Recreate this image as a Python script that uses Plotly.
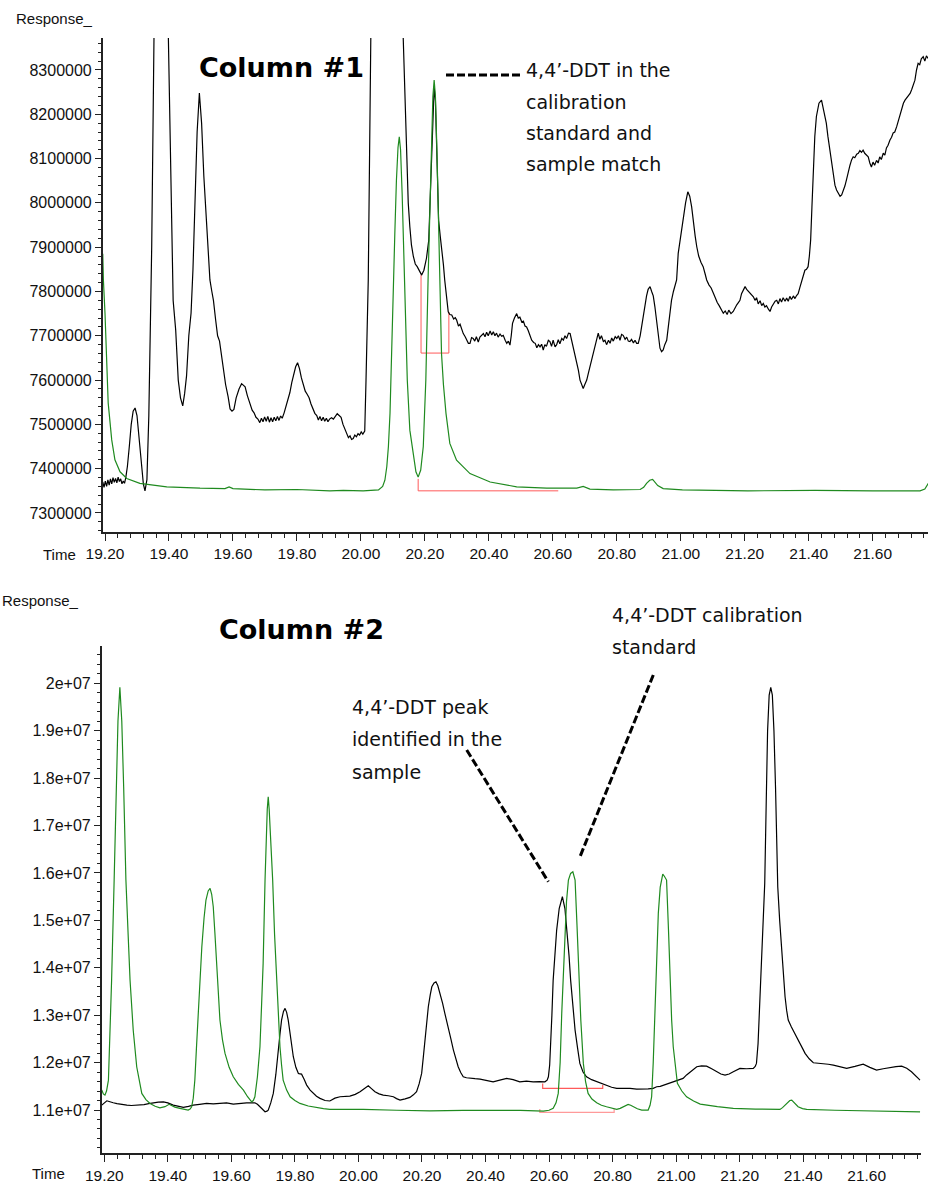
import plotly.graph_objects as go

# ---------------- data ----------------
# Column #1 : sample (black)
c1_sample = [
 (19.193,7370000),(19.197,7358000),(19.201,7372000),(19.205,7360000),(19.209,7375000),(19.213,7363000),
 (19.217,7377000),(19.221,7366000),(19.225,7380000),(19.229,7369000),(19.233,7378000),(19.237,7368000),
 (19.241,7381000),(19.245,7371000),(19.249,7377000),(19.253,7366000),(19.257,7372000),(19.261,7367000),
 (19.265,7380000),(19.270,7405000),(19.276,7450000),(19.282,7500000),(19.288,7530000),(19.294,7537000),
 (19.300,7520000),(19.307,7465000),(19.314,7400000),(19.320,7365000),(19.325,7350000),(19.331,7375000),
 (19.337,7520000),(19.342,7720000),(19.346,7900000),(19.370,9490000),(19.413,7780000),(19.421,7713000),
 (19.429,7600000),(19.436,7560000),(19.443,7542000),(19.449,7570000),(19.455,7610000),(19.462,7700000),
 (19.469,7751000),(19.475,7850000),(19.481,8000000),(19.488,8160000),(19.495,8248000),(19.502,8180000),
 (19.509,8060000),(19.516,7970000),(19.523,7900000),(19.528,7826000),(19.534,7800000),(19.539,7780000),
 (19.546,7735000),(19.552,7700000),(19.558,7688000),(19.563,7660000),(19.570,7622000),(19.577,7590000),
 (19.585,7562000),(19.591,7535000),(19.597,7530000),(19.603,7534000),(19.610,7560000),(19.619,7580000),
 (19.627,7592000),(19.632,7588000),(19.638,7585000),(19.645,7565000),(19.653,7545000),(19.660,7532000),
 (19.666,7526000),(19.672,7516000),(19.678,7512000),(19.684,7504000),(19.689,7514000),(19.694,7506000),
 (19.699,7517000),(19.704,7507000),(19.709,7518000),(19.714,7505000),(19.719,7515000),(19.724,7506000),
 (19.729,7516000),(19.734,7508000),(19.739,7518000),(19.744,7509000),(19.749,7519000),(19.754,7514000),
 (19.760,7526000),(19.766,7540000),(19.772,7555000),(19.778,7572000),(19.784,7595000),(19.790,7615000),
 (19.796,7630000),(19.802,7639000),(19.808,7626000),(19.814,7605000),(19.820,7588000),(19.826,7575000),
 (19.832,7568000),(19.838,7560000),(19.844,7546000),(19.850,7535000),(19.856,7525000),(19.862,7520000),
 (19.867,7510000),(19.872,7518000),(19.877,7508000),(19.882,7516000),(19.887,7507000),(19.892,7514000),
 (19.897,7506000),(19.902,7512000),(19.908,7515000),(19.914,7512000),(19.920,7518000),(19.926,7524000),
 (19.932,7520000),(19.938,7516000),(19.944,7500000),(19.950,7490000),(19.956,7478000),(19.961,7470000),
 (19.966,7474000),(19.971,7466000),(19.976,7468000),(19.981,7476000),(19.986,7472000),(19.991,7479000),
 (19.996,7476000),(20.001,7483000),(20.006,7478000),(20.012,7485000),(20.016,7600000),(20.019,7700000),
 (20.023,7826000),(20.057,10160000),(20.143,8082000),(20.148,8000000),(20.153,7946000),(20.158,7905000),
 (20.164,7879000),(20.170,7862000),(20.176,7856000),(20.183,7845000),(20.190,7837000),(20.197,7848000),
 (20.205,7875000),(20.212,7915000),(20.216,8000000),(20.221,8120000),(20.225,8220000),(20.229,8262000),
 (20.233,8230000),(20.238,8100000),(20.243,7960000),(20.248,7925000),(20.253,7895000),(20.258,7860000),
 (20.262,7826000),(20.268,7781000),(20.273,7754000),
 (20.278,7748000),(20.284,7747000),(20.290,7738000),(20.295,7741000),(20.299,7736000),(20.305,7722000),
 (20.310,7726000),(20.315,7713000),(20.320,7705000),(20.326,7698000),(20.331,7690000),(20.336,7683000),
 (20.341,7683000),(20.346,7696000),(20.351,7694000),(20.356,7688000),(20.361,7698000),(20.367,7686000),
 (20.372,7697000),(20.377,7700000),(20.383,7705000),(20.388,7698000),(20.393,7708000),(20.398,7700000),
 (20.404,7711000),(20.409,7702000),(20.414,7709000),(20.419,7700000),(20.424,7706000),(20.429,7697000),
 (20.435,7704000),(20.440,7699000),(20.445,7701000),(20.451,7690000),(20.456,7683000),(20.461,7688000),
 (20.466,7679000),(20.470,7700000),(20.474,7728000),(20.480,7740000),(20.487,7750000),(20.492,7740000),
 (20.497,7742000),(20.503,7731000),(20.508,7733000),(20.513,7722000),(20.518,7720000),(20.523,7712000),
 (20.529,7701000),(20.534,7690000),(20.540,7685000),(20.545,7683000),(20.550,7673000),(20.555,7680000),
 (20.560,7675000),(20.565,7681000),(20.570,7668000),(20.575,7680000),(20.580,7676000),(20.586,7690000),
 (20.591,7687000),(20.596,7676000),(20.601,7690000),(20.607,7675000),(20.612,7680000),(20.617,7691000),
 (20.622,7682000),(20.628,7694000),(20.633,7690000),(20.638,7700000),(20.643,7694000),(20.649,7706000),
 (20.654,7705000),(20.659,7690000),(20.664,7675000),(20.670,7655000),(20.675,7640000),(20.680,7622000),
 (20.685,7600000),(20.690,7590000),(20.695,7581000),(20.700,7590000),(20.706,7600000),(20.711,7615000),
 (20.716,7630000),(20.721,7642000),(20.727,7660000),(20.732,7675000),(20.737,7690000),(20.742,7706000),
 (20.747,7692000),(20.752,7700000),(20.758,7687000),(20.763,7690000),(20.768,7680000),(20.774,7690000),
 (20.779,7683000),(20.784,7695000),(20.789,7688000),(20.795,7698000),(20.800,7694000),(20.805,7700000),
 (20.810,7690000),(20.815,7703000),(20.820,7701000),(20.826,7692000),(20.831,7697000),(20.836,7688000),
 (20.841,7687000),(20.846,7692000),(20.852,7684000),(20.857,7690000),(20.862,7683000),(20.867,7683000),
 (20.873,7700000),(20.878,7725000),(20.883,7750000),(20.888,7766000),(20.893,7790000),(20.898,7805000),
 (20.904,7811000),(20.909,7800000),(20.914,7790000),(20.919,7766000),(20.925,7730000),(20.930,7700000),
 (20.935,7672000),(20.940,7664000),(20.945,7668000),(20.950,7680000),(20.956,7690000),(20.961,7720000),
 (20.966,7750000),(20.971,7780000),(20.977,7800000),(20.982,7812000),(20.987,7826000),(20.992,7886000),
 (21.000,7930000),(21.008,7969000),(21.015,8000000),(21.022,8025000),(21.028,8015000),(21.034,7991000),
 (21.040,7950000),(21.045,7925000),(21.050,7901000),(21.056,7880000),(21.063,7866000),(21.070,7856000),
 (21.076,7840000),(21.081,7826000),(21.088,7815000),(21.095,7808000),(21.102,7796000),(21.108,7785000),
 (21.114,7775000),(21.120,7768000),(21.127,7760000),(21.133,7751000),(21.139,7756000),(21.145,7748000),
 (21.150,7758000),(21.157,7750000),(21.164,7755000),(21.170,7764000),(21.175,7770000),(21.180,7775000),
 (21.185,7780000),(21.190,7795000),(21.196,7805000),(21.201,7811000),(21.206,7805000),(21.212,7800000),
 (21.217,7795000),(21.222,7790000),(21.227,7788000),(21.232,7780000),(21.237,7786000),(21.242,7772000),
 (21.248,7779000),(21.253,7768000),(21.258,7773000),(21.263,7765000),(21.268,7768000),(21.274,7760000),
 (21.279,7755000),(21.284,7765000),(21.290,7772000),(21.295,7778000),(21.300,7780000),(21.305,7772000),
 (21.310,7784000),(21.315,7776000),(21.320,7786000),(21.326,7778000),(21.331,7785000),(21.336,7778000),
 (21.341,7789000),(21.346,7782000),(21.352,7790000),(21.357,7784000),(21.362,7791000),(21.367,7795000),
 (21.372,7808000),(21.377,7820000),(21.383,7838000),(21.388,7848000),(21.393,7850000),(21.398,7856000),
 (21.402,7880000),(21.406,7916000),(21.410,7990000),(21.414,8082000),(21.419,8150000),(21.424,8195000),
 (21.432,8225000),(21.440,8232000),(21.447,8210000),(21.455,8180000),(21.460,8150000),(21.466,8119000),
 (21.471,8090000),(21.477,8059000),(21.482,8040000),(21.487,8029000),(21.493,8022000),(21.498,8015000),
 (21.503,8018000),(21.508,8026000),(21.513,8038000),(21.518,8052000),(21.523,8070000),(21.529,8085000),
 (21.534,8097000),(21.539,8104000),(21.544,8102000),(21.550,8110000),(21.555,8112000),(21.560,8118000),
 (21.565,8114000),(21.570,8119000),(21.575,8112000),(21.580,8108000),(21.586,8104000),(21.591,8090000),
 (21.596,8081000),(21.601,8092000),(21.606,8085000),(21.612,8096000),(21.617,8090000),(21.622,8104000),
 (21.627,8098000),(21.633,8112000),(21.638,8108000),(21.643,8124000),(21.648,8130000),(21.654,8142000),
 (21.659,8148000),(21.664,8158000),(21.669,8160000),(21.675,8172000),(21.680,8185000),(21.685,8200000),
 (21.690,8212000),(21.696,8225000),(21.701,8232000),(21.706,8236000),(21.711,8240000),(21.717,8247000),
 (21.722,8256000),(21.727,8268000),(21.732,8277000),(21.737,8300000),(21.742,8315000),(21.747,8312000),
 (21.752,8325000),(21.758,8330000),(21.763,8320000),(21.768,8332000),(21.773,8326000)]

# Column #1 : calibration standard (green)
c1_standard = [
 (19.193,7885000),(19.195,7826000),(19.200,7751000),(19.205,7638000),(19.210,7548000),(19.221,7465000),
 (19.231,7420000),(19.247,7393000),(19.268,7378000),(19.309,7367000),(19.393,7359000),(19.497,7356000),
 (19.575,7355000),(19.588,7359000),(19.600,7355000),(19.700,7352000),(19.800,7353000),(19.903,7350000),
 (19.945,7351000),(20.007,7350000),(20.055,7352000),(20.068,7360000),(20.075,7374000),(20.081,7405000),
 (20.086,7450000),(20.091,7525000),(20.096,7675000),(20.101,7788000),(20.106,7930000),(20.111,8050000),
 (20.116,8125000),(20.120,8149000),(20.124,8120000),(20.129,8020000),(20.133,7900000),(20.137,7790000),
 (20.145,7600000),(20.153,7487000),(20.164,7427000),(20.172,7393000),(20.179,7381000),(20.187,7397000),
 (20.195,7450000),(20.203,7600000),(20.210,7826000),(20.216,8010000),(20.221,8140000),(20.225,8240000),
 (20.229,8277000),(20.233,8240000),(20.238,8110000),(20.243,7930000),(20.247,7790000),(20.252,7660000),
 (20.258,7590000),(20.266,7525000),(20.278,7457000),(20.299,7419000),(20.341,7389000),(20.404,7370000),
 (20.487,7359000),(20.581,7356000),(20.675,7356000),(20.695,7360000),(20.716,7354000),(20.789,7352000),
 (20.873,7353000),(20.884,7358000),(20.893,7367000),(20.903,7374000),(20.912,7376000),(20.920,7370000),
 (20.928,7362000),(20.945,7355000),(21.005,7352000),(21.210,7350000),(21.420,7351000),(21.600,7350000),
 (21.748,7350000),(21.763,7354000),(21.774,7367000)]

# Column #2 : sample (black)
c2_sample = [
 (19.192,11103000),(19.200,11150000),(19.208,11194000),(19.215,11180000),(19.222,11160000),(19.228,11152000),
 (19.240,11135000),(19.250,11120000),(19.260,11110000),(19.271,11103000),(19.285,11095000),(19.300,11100000),
 (19.312,11103000),(19.325,11115000),(19.340,11135000),(19.354,11152000),(19.370,11165000),(19.386,11173000),
 (19.400,11150000),(19.417,11103000),(19.433,11075000),(19.449,11055000),(19.465,11075000),(19.480,11103000),
 (19.500,11120000),(19.522,11139000),(19.543,11130000),(19.564,11139000),(19.585,11150000),(19.606,11125000),
 (19.627,11140000),(19.648,11152000),(19.665,11150000),(19.674,11152000),(19.682,11120000),(19.690,11068000),
 (19.698,11010000),(19.706,10962000),(19.712,10975000),(19.716,10998000),(19.724,11150000),(19.732,11350000),
 (19.740,11750000),(19.748,12194000),(19.753,12600000),(19.758,12897000),(19.764,13080000),(19.769,13143000),
 (19.774,13060000),(19.779,12897000),(19.787,12500000),(19.795,12123000),(19.803,11900000),(19.811,11772000),
 (19.816,11760000),(19.821,11757000),(19.829,11650000),(19.837,11525000),(19.848,11420000),(19.858,11350000),
 (19.868,11290000),(19.879,11245000),(19.895,11200000),(19.910,11190000),(19.926,11250000),(19.942,11279000),
 (19.957,11280000),(19.973,11293000),(19.990,11330000),(20.005,11384000),(20.018,11450000),(20.031,11510000),
 (20.041,11450000),(20.052,11384000),(20.065,11340000),(20.078,11314000),(20.094,11300000),(20.110,11279000),
 (20.120,11240000),(20.131,11209000),(20.147,11235000),(20.162,11265000),(20.173,11320000),(20.183,11384000),
 (20.191,11550000),(20.199,11772000),(20.204,12100000),(20.209,12475000),(20.215,12850000),(20.220,13177000),
 (20.226,13430000),(20.231,13599000),(20.238,13680000),(20.244,13705000),(20.250,13620000),(20.257,13460000),
 (20.265,13250000),(20.272,13038000),(20.283,12755000),(20.291,12500000),(20.299,12264000),(20.307,12070000),
 (20.314,11912000),(20.322,11790000),(20.330,11701000),(20.340,11680000),(20.351,11667000),(20.367,11660000),
 (20.383,11652000),(20.403,11630000),(20.424,11595000),(20.445,11630000),(20.467,11667000),(20.487,11640000),
 (20.508,11595000),(20.529,11610000),(20.550,11595000),(20.570,11600000),(20.587,11595000),(20.594,11630000),
 (20.598,11701000),(20.602,11950000),(20.605,12334000),(20.609,13000000),(20.613,13740000),(20.618,14300000),
 (20.624,14795000),(20.632,15250000),(20.642,15498000),(20.650,15250000),(20.657,14795000),(20.663,14250000),
 (20.668,13740000),(20.675,13150000),(20.682,12686000),(20.690,12300000),(20.697,11983000),(20.707,11800000),
 (20.718,11701000),(20.734,11640000),(20.750,11595000),(20.765,11560000),(20.781,11525000),(20.797,11480000),
 (20.813,11456000),(20.834,11460000),(20.855,11456000),(20.876,11440000),(20.897,11434000),(20.912,11445000),
 (20.928,11456000),(20.939,11490000),(20.950,11500000),(20.970,11545000),(20.991,11595000),(21.006,11630000),
 (21.022,11667000),(21.033,11740000),(21.044,11806000),(21.055,11870000),(21.065,11912000),(21.080,11930000),
 (21.096,11926000),(21.112,11870000),(21.128,11806000),(21.141,11760000),(21.154,11736000),(21.167,11760000),
 (21.180,11806000),(21.190,11840000),(21.201,11877000),(21.222,11870000),(21.243,11877000),(21.249,11920000),
 (21.253,11983000),(21.258,12400000),(21.262,13038000),(21.266,13800000),(21.269,14443000),(21.273,15150000),
 (21.279,15780000),(21.284,17600000),(21.288,19000000),(21.293,19750000),(21.298,19916000),(21.303,19750000),
 (21.308,19000000),(21.313,17800000),(21.320,15709000),(21.326,15000000),(21.332,14443000),(21.337,13900000),
 (21.343,13388000),(21.348,13100000),(21.353,12897000),(21.363,12750000),(21.374,12616000),(21.382,12500000),
 (21.390,12405000),(21.398,12300000),(21.406,12194000),(21.419,12080000),(21.432,11996000),(21.447,11990000),
 (21.463,11983000),(21.479,11965000),(21.495,11947000),(21.516,11910000),(21.537,11877000),(21.563,11920000),
 (21.589,11968000),(21.610,11900000),(21.631,11842000),(21.652,11870000),(21.673,11899000),(21.692,11915000),
 (21.710,11926000),(21.726,11880000),(21.741,11806000),(21.755,11720000),(21.768,11631000)]

# Column #2 : calibration standard (green)
c2_standard = [
 (19.192,11420000),(19.197,11340000),(19.202,11314000),(19.207,11400000),(19.213,11630000),(19.218,12500000),
 (19.223,13740000),(19.231,15850000),(19.238,17800000),(19.243,19200000),(19.249,19916000),(19.255,19200000),
 (19.261,17800000),(19.268,15850000),(19.275,14700000),(19.281,13740000),(19.291,12686000),(19.302,11912000),
 (19.318,11350000),(19.331,11220000),(19.344,11139000),(19.360,11080000),(19.375,11047000),(19.391,11070000),
 (19.404,11120000),(19.422,11060000),(19.438,11034000),(19.451,11010000),(19.464,10998000),(19.470,11020000),
 (19.475,11068000),(19.480,11250000),(19.485,11631000),(19.490,12300000),(19.496,13038000),(19.501,13750000),
 (19.507,14443000),(19.514,15050000),(19.520,15428000),(19.527,15620000),(19.533,15675000),(19.538,15550000),
 (19.543,15287000),(19.548,14750000),(19.554,14093000),(19.559,13450000),(19.564,12897000),(19.572,12480000),
 (19.580,12194000),(19.593,11900000),(19.606,11701000),(19.622,11540000),(19.638,11420000),(19.651,11280000),
 (19.664,11173000),(19.669,11200000),(19.674,11279000),(19.682,11700000),(19.690,12334000),(19.695,13200000),
 (19.700,14093000),(19.706,15850000),(19.710,16800000),(19.713,17350000),(19.716,17608000),(19.719,17350000),
 (19.723,16800000),(19.730,15850000),(19.736,14700000),(19.743,13740000),(19.748,12900000),(19.753,12334000),
 (19.758,11950000),(19.763,11631000),(19.774,11420000),(19.785,11279000),(19.800,11200000),(19.816,11139000),
 (19.842,11085000),(19.869,11047000),(19.890,11030000),(19.910,11013000),(20.015,11013000),(20.120,10995000),
 (20.225,10983000),(20.330,10990000),(20.435,10998000),(20.510,10990000),(20.582,10977000),(20.600,10995000),
 (20.613,11034000),(20.622,11150000),(20.629,11350000),(20.635,12000000),(20.640,13038000),(20.645,13950000),
 (20.650,14795000),(20.655,15400000),(20.661,15850000),(20.668,15990000),(20.675,16025000),(20.679,15950000),
 (20.682,15850000),(20.688,14900000),(20.695,13740000),(20.700,12900000),(20.708,11983000),(20.715,11600000),
 (20.723,11350000),(20.735,11230000),(20.750,11152000),(20.765,11100000),(20.781,11068000),(20.797,11035000),
 (20.813,11013000),(20.824,11035000),(20.834,11068000),(20.842,11100000),(20.849,11118000),(20.857,11100000),
 (20.865,11068000),(20.878,11025000),(20.892,10998000),(20.905,10990000),(20.912,10998000),(20.918,11100000),
 (20.923,11279000),(20.928,12000000),(20.933,13038000),(20.938,14100000),(20.944,15147000),(20.950,15700000),
 (20.954,15850000),(20.958,15977000),(20.963,15930000),(20.970,15850000),(20.976,14800000),(20.981,13740000),
 (20.986,12900000),(20.991,12334000),(20.997,11900000),(21.004,11561000),(21.018,11400000),(21.033,11279000),
 (21.055,11190000),(21.076,11125000),(21.130,11070000),(21.180,11034000),(21.250,11020000),(21.327,11013000),
 (21.335,11050000),(21.343,11103000),(21.352,11160000),(21.358,11200000),(21.364,11209000),(21.372,11150000),
 (21.384,11068000),(21.398,11030000),(21.411,11013000),(21.500,10995000),(21.600,10983000),(21.700,10970000),
 (21.768,10962000)]

# integration baseline markers (red)
c1_mark_upper = [(20.188,7837000),(20.188,7661000),(20.275,7661000),(20.275,7754000)]
c1_mark_lower = [(20.179,7377000),(20.179,7350000),(20.617,7350000)]
c2_mark_upper = [(20.580,11561000),(20.580,11456000),(20.769,11456000),(20.769,11526000)]
c2_mark_lower = [(20.571,11019000),(20.571,10949000),(20.805,10949000),(20.805,11019000)]

# axis ticks
x_tickvals = [19.2, 19.4, 19.6, 19.8, 20.0, 20.2, 20.4, 20.6, 20.8, 21.0, 21.2, 21.4, 21.6]
x_ticktext = ["19.20", "19.40", "19.60", "19.80", "20.00", "20.20", "20.40", "20.60",
              "20.80", "21.00", "21.20", "21.40", "21.60"]
y1_tickvals = [7300000, 7400000, 7500000, 7600000, 7700000, 7800000, 7900000,
               8000000, 8100000, 8200000, 8300000]
y1_ticktext = [str(v) for v in y1_tickvals]
y2_tickvals = [11000000, 12000000, 13000000, 14000000, 15000000, 16000000,
               17000000, 18000000, 19000000, 20000000]
y2_ticktext = ["1.1e+07", "1.2e+07", "1.3e+07", "1.4e+07", "1.5e+07", "1.6e+07",
               "1.7e+07", "1.8e+07", "1.9e+07", "2e+07"]

# ---------------- figure ----------------
W, H = 930, 1183
def px(x):
    return x / W
def py(y):
    return 1 - y / H

GREEN = "#1f8a1f"
BLACK = "#000000"
RED_A = "#ff5a5a"
RED_B = "#ff9a9a"

fig = go.Figure()

def add_line(pts, color, width, xa, ya):
    fig.add_trace(go.Scatter(x=[p[0] for p in pts], y=[p[1] for p in pts], mode="lines",
                             line=dict(color=color, width=width), xaxis=xa, yaxis=ya,
                             hoverinfo="skip", showlegend=False))

add_line(c1_mark_upper, RED_A, 1, "x", "y")
add_line(c1_mark_lower, RED_A, 1, "x", "y")
add_line(c1_sample, BLACK, 1.2, "x", "y")
add_line(c1_standard, GREEN, 1.2, "x", "y")

add_line(c2_mark_upper, RED_A, 1.2, "x2", "y2")
add_line(c2_mark_lower, RED_B, 1.2, "x2", "y2")
add_line(c2_sample, BLACK, 1.2, "x2", "y2")
add_line(c2_standard, GREEN, 1.2, "x2", "y2")

tick_font = dict(family="Liberation Sans, Arial, sans-serif", size=15.5, color="#111")
axis_common = dict(showgrid=False, zeroline=False, showline=True, linecolor="#222",
                   linewidth=1.5, ticks="outside", tickcolor="#222", tickwidth=1.3,
                   automargin=False)

fig.update_layout(
    width=W, height=H, margin=dict(l=0, r=0, t=0, b=0, autoexpand=False),
    plot_bgcolor="white", paper_bgcolor="white", showlegend=False,
    xaxis=dict(domain=[px(102.7), px(928)], anchor="y", range=[19.1928, 21.7729],
               tickvals=x_tickvals, ticktext=x_ticktext, ticklen=7, tickfont=tick_font,
               minor=dict(ticks="outside", ticklen=4, dtick=0.04, tick0=19.2, tickcolor="#222"),
               **axis_common),
    yaxis=dict(domain=[py(532), py(38)], anchor="x", range=[7257100, 8372200],
               tickvals=y1_tickvals, ticktext=y1_ticktext, ticklen=6,
               tickfont=dict(tick_font, size=16),
               minor=dict(ticks="outside", ticklen=2.5, dtick=20000, tick0=7300000, tickcolor="#222"),
               **axis_common),
    xaxis2=dict(domain=[px(101.7), px(920.7)], anchor="y2", range=[19.1918, 21.770],
                tickvals=x_tickvals, ticktext=x_ticktext, ticklen=7, tickfont=tick_font,
                minor=dict(ticks="outside", ticklen=4, dtick=0.04, tick0=19.2, tickcolor="#222"),
                **axis_common),
    yaxis2=dict(domain=[py(1153.3), py(645.7)], anchor="x2", range=[10086700, 20793000],
                tickvals=y2_tickvals, ticktext=y2_ticktext, ticklen=6,
                tickfont=dict(tick_font, size=16),
                minor=dict(ticks="outside", ticklen=2.5, dtick=200000, tick0=11000000, tickcolor="#222"),
                **axis_common),
)

ANN_FONT = dict(family="DejaVu Sans, sans-serif", size=19, color="#111")
LBL_FONT = dict(family="Liberation Sans, Arial, sans-serif", size=15, color="#111")
TITLE_FONT = dict(family="DejaVu Sans, sans-serif", size=27, color="#000")

def text(x, y, s, font, xanchor="left"):
    fig.add_annotation(x=px(x), y=py(y), xref="paper", yref="paper", text=s, showarrow=False,
                       xanchor=xanchor, yanchor="middle", font=font)

text(14, 18, "Response_", LBL_FONT)
text(0, 600, "Response_", LBL_FONT)
text(59.5, 554, "Time", LBL_FONT, "center")
text(48.7, 1173, "Time", LBL_FONT, "center")
text(197, 67, "<b>Column #1</b>", TITLE_FONT)
text(217, 629, "<b>Column #2</b>", TITLE_FONT)

for yy, s in zip([70, 101.5, 133, 164.5],
                 ["4,4’-DDT in the", "calibration", "standard and", "sample match"]):
    text(524, yy, s, ANN_FONT)
for yy, s in zip([706.7, 739, 771.5], ["4,4’-DDT peak", "identified in the", "sample"]):
    text(350, yy, s, ANN_FONT)
for yy, s in zip([615.3, 647], ["4,4’-DDT calibration", "standard"]):
    text(610, yy, s, ANN_FONT)

def dash(x0, y0, x1, y1):
    fig.add_shape(type="line", xref="paper", yref="paper", x0=px(x0), y0=py(y0), x1=px(x1), y1=py(y1),
                  line=dict(color="#000", width=3, dash="8px,3px"))

dash(446, 75, 523, 75)
dash(466.7, 750, 548.3, 881.7)
dash(653.3, 675, 580, 856.7)

fig.write_html("out.html", config={"displayModeBar": False})
